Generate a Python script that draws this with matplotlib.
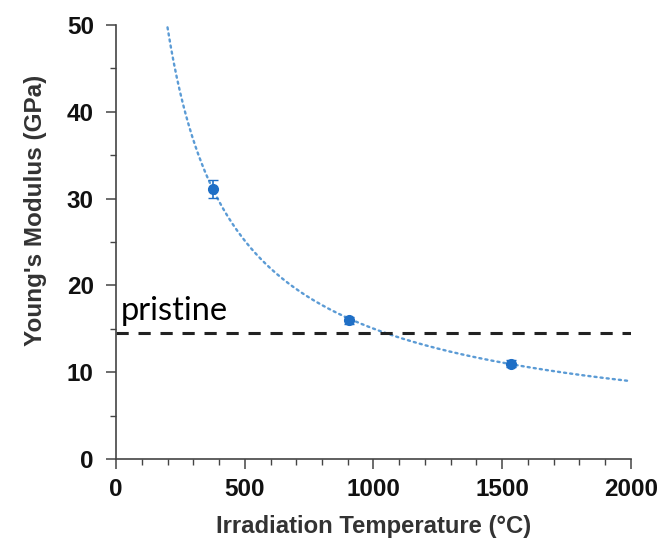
import matplotlib
matplotlib.use("Agg")
import matplotlib.pyplot as plt
import numpy as np
from matplotlib.ticker import MultipleLocator

# measured points
temps = [378, 905, 1534]
modulus = [31.1, 16.0, 11.0]
mod_err = [1.0, 0.4, 0.4]
pristine = 14.5

# power-law trendline fitted to the points (like Excel)
b, ln_a = np.polyfit(np.log(temps), np.log(modulus), 1)
x_fit = np.linspace(200, 2000, 300)
y_fit = np.exp(ln_a) * x_fit ** b

fig = plt.figure(figsize=(6.61, 5.39), dpi=100)
ax = fig.add_axes([0.1755, 0.1484, 0.7791, 0.8052])

ax.plot(x_fit, y_fit, color="#5b9bd5", linestyle=(0, (0.9, 1.7)), linewidth=1.7,
        dash_capstyle="round")
ax.axhline(pristine, color="#222222", linestyle=(0, (4, 3.2)), linewidth=2.2)
ax.errorbar(temps, modulus, yerr=mod_err, fmt="o", color="#1f6fc6",
            markersize=7, capsize=3.6, elinewidth=1.2, zorder=5)

ax.text(18, pristine + 1.5, "pristine", fontsize=23.5, family="Lato",
        ha="left", va="baseline")

ax.set_xlim(0, 2000)
ax.set_ylim(0, 50)
ax.xaxis.set_major_locator(MultipleLocator(500))
ax.xaxis.set_minor_locator(MultipleLocator(100))
ax.yaxis.set_major_locator(MultipleLocator(10))
ax.yaxis.set_minor_locator(MultipleLocator(5))

for s in ["top", "right"]:
    ax.spines[s].set_visible(False)
for s in ["left", "bottom"]:
    ax.spines[s].set_color("#444444")
    ax.spines[s].set_linewidth(1.2)

ax.tick_params(which="major", direction="out", length=7, width=1.1, color="#444444")
ax.tick_params(which="minor", direction="out", length=4.2, width=1.0, color="#444444")
ax.tick_params(axis="x", labelsize=17.5, pad=7, labelcolor="#111111")
ax.tick_params(axis="y", labelsize=17.5, pad=9, labelcolor="#111111")
for lab in ax.get_xticklabels() + ax.get_yticklabels():
    lab.set_fontweight("bold")
    lab.set_family("Liberation Sans")

ax.set_xlabel("Irradiation Temperature (°C)", fontsize=17.2, fontweight="bold",
              family="Liberation Sans", color="#333333", labelpad=10)
ax.set_ylabel("Young's Modulus (GPa)", fontsize=17.5, fontweight="bold",
              family="Liberation Sans", color="#333333")
ax.yaxis.set_label_coords(-0.134, 0.574)

fig.savefig("out.png", dpi=100)
